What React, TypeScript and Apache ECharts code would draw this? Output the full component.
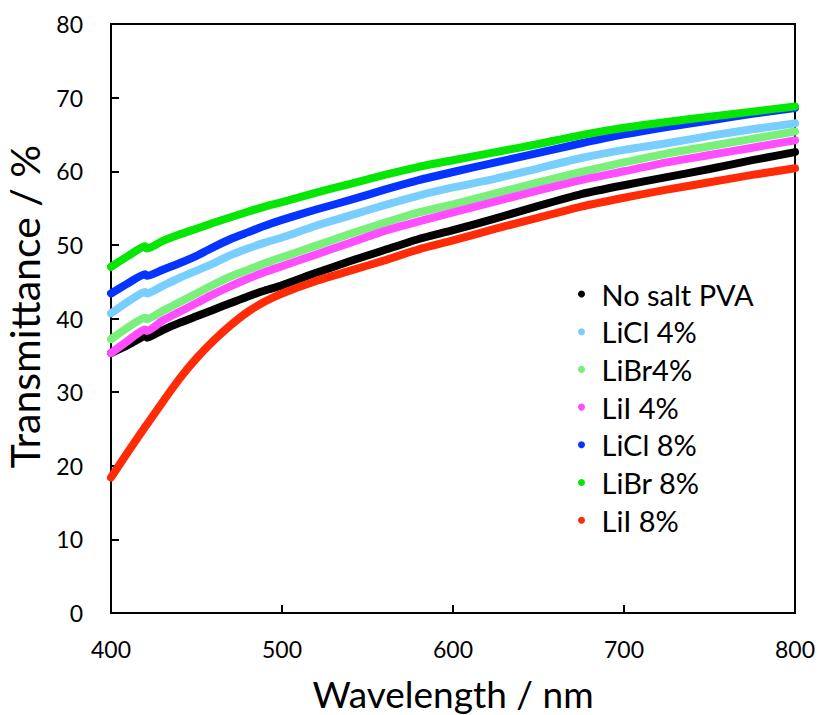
import React, { useEffect, useRef } from "react";
import * as echarts from "echarts";

const wavelengths = [400, 410, 420, 421, 430, 440, 450, 460, 470, 480, 490, 500, 520, 540, 560, 580, 600, 625, 650, 675, 700, 725, 750, 775, 800];

const noSaltPVA = [35.3, 36.4, 37.6, 37.4, 38.4, 39.4, 40.3, 41.2, 42.1, 43.0, 43.8, 44.5, 46.2, 47.8, 49.3, 50.8, 52.0, 53.6, 55.3, 56.9, 58.1, 59.2, 60.3, 61.5, 62.6];
const liCl4 = [40.7, 42.3, 43.6, 43.4, 44.4, 45.5, 46.5, 47.5, 48.6, 49.5, 50.3, 51.0, 52.6, 54.0, 55.4, 56.7, 57.8, 59.0, 60.4, 61.8, 62.9, 63.8, 64.8, 65.7, 66.5];
const liBr4 = [37.2, 38.8, 40.1, 39.9, 41.0, 42.2, 43.4, 44.6, 45.7, 46.6, 47.5, 48.3, 49.9, 51.5, 53.0, 54.4, 55.5, 57.0, 58.5, 59.9, 61.2, 62.4, 63.4, 64.4, 65.4];
const liI4 = [35.3, 37.0, 38.5, 38.3, 39.7, 40.9, 42.1, 43.3, 44.4, 45.4, 46.3, 47.1, 48.7, 50.3, 51.9, 53.2, 54.4, 55.9, 57.4, 58.8, 60.0, 61.2, 62.2, 63.2, 64.2];
const liCl8 = [43.4, 44.8, 46.0, 45.8, 46.6, 47.5, 48.5, 49.7, 50.8, 51.7, 52.6, 53.4, 54.8, 56.1, 57.5, 58.8, 59.9, 61.2, 62.5, 63.8, 65.0, 66.0, 66.9, 67.8, 68.6];
const liBr8 = [47.0, 48.5, 49.8, 49.5, 50.5, 51.4, 52.2, 53.0, 53.75, 54.5, 55.2, 55.8, 57.1, 58.3, 59.5, 60.6, 61.5, 62.6, 63.7, 64.9, 65.9, 66.7, 67.4, 68.1, 68.8];
const liI8 = [18.4, 21.9, 25.3, 25.6, 28.6, 31.8, 34.6, 37.0, 39.1, 40.9, 42.3, 43.4, 45.1, 46.5, 47.9, 49.4, 50.6, 52.2, 53.7, 55.2, 56.4, 57.5, 58.5, 59.5, 60.4];

const seriesNames = ["No salt PVA", "LiCl 4%", "LiBr4%", "LiI 4%", "LiCl 8%", "LiBr 8%", "LiI 8%"];
const seriesValues = [noSaltPVA, liCl4, liBr4, liI4, liCl8, liBr8, liI8];
const seriesColors = ["#000000", "#78CFFF", "#78F07A", "#FF4DFF", "#0533FF", "#05E605", "#FF2B06"];

const FONT = "Lato";

export default function App() {
  const ref = useRef<HTMLDivElement>(null);
  useEffect(() => {
    if (!ref.current) return;
    const chart = echarts.init(ref.current, undefined, { renderer: "svg" });
    chart.setOption({
      animation: false,
      backgroundColor: "#ffffff",
      textStyle: { fontFamily: FONT },
      grid: {
        left: 111,
        top: 24,
        right: 23,
        bottom: 102,
        containLabel: false,
        outerBoundsMode: "none",
        show: true,
        borderColor: "#000000",
        borderWidth: 2,
      },
      legend: {
        orient: "vertical",
        left: 573,
        top: 274,
        icon: "circle",
        itemWidth: 30,
        itemHeight: 7,
        itemGap: 7.7,
        textStyle: { fontFamily: FONT, fontSize: 29, color: "#000000", lineHeight: 30, padding: [0, 0, 0, 0] },
        data: seriesNames,
      },
      xAxis: {
        type: "value",
        min: 400,
        max: 800,
        interval: 100,
        name: "Wavelength / nm",
        nameLocation: "middle",
        nameGap: 62,
        nameTextStyle: { fontFamily: FONT, fontSize: 37, color: "#000000" },
        axisLine: { lineStyle: { color: "#000000", width: 2 } },
        axisTick: { inside: true, length: 8, lineStyle: { color: "#000000", width: 2 } },
        axisLabel: { fontFamily: FONT, fontSize: 23, color: "#000000", margin: 24 },
        splitLine: { show: false },
      },
      yAxis: {
        type: "value",
        min: 0,
        max: 80,
        interval: 10,
        name: "Transmittance / %",
        nameLocation: "middle",
        nameGap: 60,
        nameTextStyle: { fontFamily: FONT, fontSize: 41, color: "#000000", padding: [0, 0, 0, 24] },
        axisLine: { lineStyle: { color: "#000000", width: 2 } },
        axisTick: { inside: true, length: 8, lineStyle: { color: "#000000", width: 2 } },
        axisLabel: { fontFamily: FONT, fontSize: 23, color: "#000000", margin: 28 },
        splitLine: { show: false },
      },
      series: seriesNames.map((name, i) => ({
        name,
        type: "line",
        data: wavelengths.map((w, j) => [w, seriesValues[i][j]]),
        showSymbol: false,
        symbol: "circle",
        smooth: 0.2,
        itemStyle: { color: seriesColors[i] },
        lineStyle: { color: seriesColors[i], width: 8, cap: "round", join: "round" },
      })),
    });
    return () => chart.dispose();
  }, []);
  return (
    <div
      ref={ref}
      style={{ position: "absolute", left: 0, top: 0, width: 818, height: 715 }}
    />
  );
}
